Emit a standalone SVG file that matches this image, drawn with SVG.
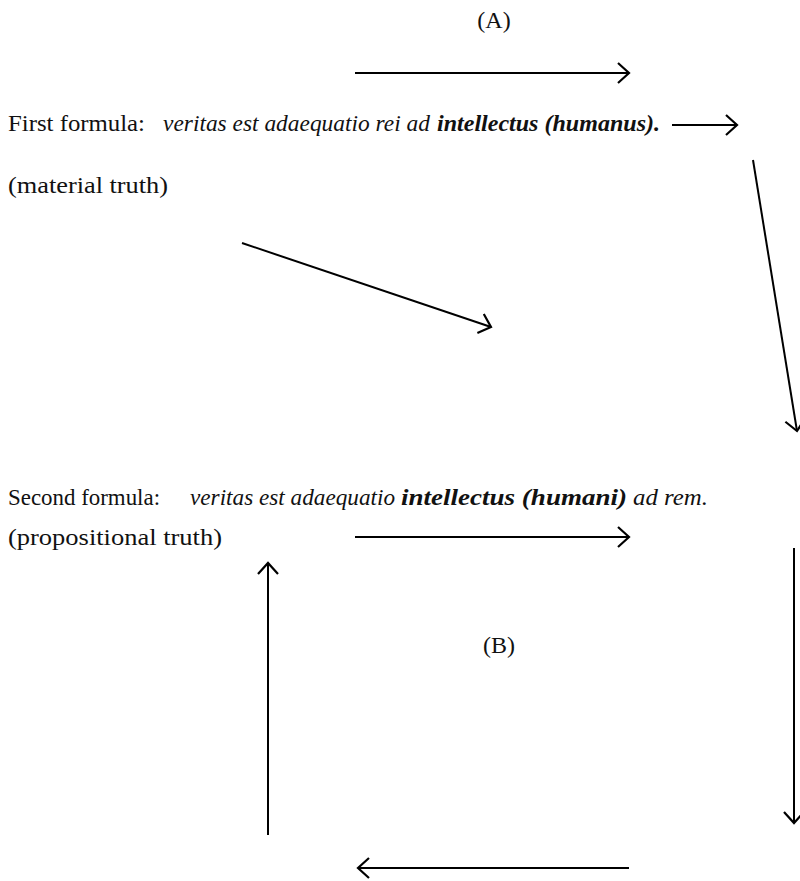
<svg xmlns="http://www.w3.org/2000/svg" width="800" height="881" viewBox="0 0 800 881">
<style>
text{font-family:'Liberation Serif','Times New Roman',serif;font-size:24px;fill:#111}
.it{font-style:italic}
.bi{font-style:italic;font-weight:bold}
.c{stroke:#000;stroke-width:2;fill:none;marker-end:url(#ah)}
</style>
<defs>
<marker id="ah" viewBox="0 0 14 22" refX="12" refY="11" markerWidth="14" markerHeight="22" markerUnits="userSpaceOnUse" orient="auto">
<path d="M1,1 L12,11 L1,21" fill="none" stroke="#000" stroke-width="2.2"/>
</marker>
</defs>
<rect width="800" height="881" fill="#fff"/>
<g id="labelA"><text x="494" y="28" text-anchor="middle">(A)</text></g>
<g id="first">
<text x="8" y="131" textLength="137" lengthAdjust="spacingAndGlyphs">First formula:</text>
<text y="131"><tspan class="it" x="163" textLength="267" lengthAdjust="spacingAndGlyphs">veritas est adaequatio rei ad</tspan><tspan class="bi" x="437" textLength="223" lengthAdjust="spacingAndGlyphs">intellectus (humanus).</tspan></text>
</g>
<g id="material"><text x="8" y="193" textLength="160" lengthAdjust="spacingAndGlyphs">(material truth)</text></g>
<g id="second">
<text x="8" y="505" textLength="152" lengthAdjust="spacingAndGlyphs">Second formula:</text>
<text y="505"><tspan class="it" x="190" textLength="205" lengthAdjust="spacingAndGlyphs">veritas est adaequatio</tspan><tspan class="bi" x="401" textLength="226" lengthAdjust="spacingAndGlyphs">intellectus (humani)</tspan><tspan class="it" x="633" textLength="75" lengthAdjust="spacingAndGlyphs">ad rem.</tspan></text>
</g>
<g id="propositional"><text x="8" y="545" textLength="214" lengthAdjust="spacingAndGlyphs">(propositional truth)</text></g>
<g id="labelB"><text x="499" y="653" text-anchor="middle">(B)</text></g>
<g id="connectors">
<line class="c" x1="355" y1="73" x2="629" y2="73"/>
<line class="c" x1="672" y1="125" x2="737" y2="125"/>
<line class="c" x1="242" y1="243" x2="491" y2="327"/>
<line class="c" x1="753" y1="160" x2="797" y2="431"/>
<line class="c" x1="355" y1="537" x2="629" y2="537"/>
<line class="c" x1="268" y1="835" x2="268" y2="563"/>
<line class="c" x1="794" y1="548" x2="794" y2="823"/>
<line class="c" x1="629" y1="868" x2="358" y2="868"/>
</g>
</svg>
